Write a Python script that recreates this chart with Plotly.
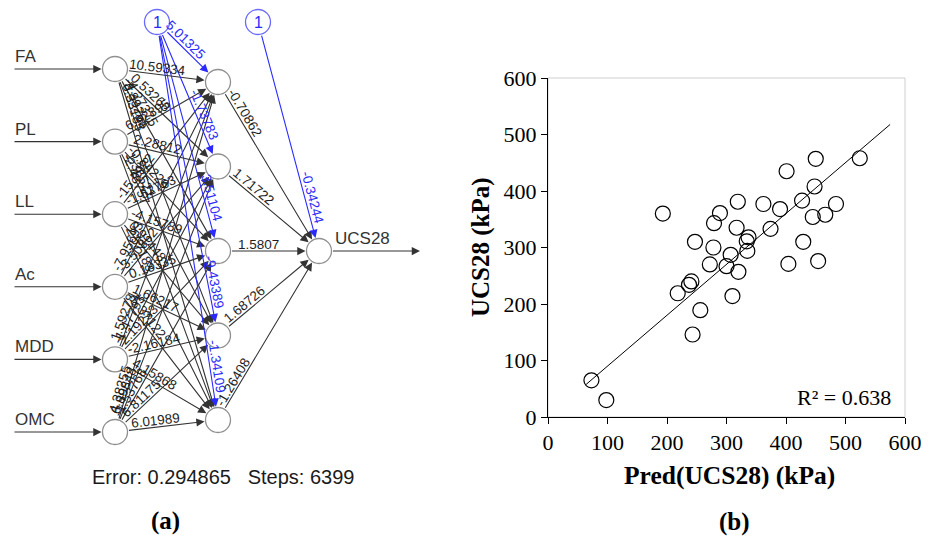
import math
import numpy as np
import plotly.graph_objects as go

# ---------------- data ----------------
input_names = ["FA", "PL", "LL", "Ac", "MDD", "OMC"]
output_name = "UCS28"
# weights input -> hidden (rows: inputs, cols: hidden neurons)
w_fa = [10.59334, 0.53268, -4.27375, 3.89265, 6.33185]
w_pl = [6.62895, 2.28812, -0.84226, 1.36521, -2.48757]
w_ll = [-15.9922, -1.52763, -4.15789, 0.91448, 2.57183]
w_ac = [-7.95693, -3.50862, 0.18335, 1.66217, -5.37122]
w_mdd = [1.59278, -1.47793, 2.19233, -2.16184, 4.15868]
w_omc = [4.38255, 6.89848, -1.53768, 6.81175, 6.01989]
w_bias_hidden = [5.01325, -1.73783, 3.51104, -9.43389, -1.34109]
w_hidden_out = [-0.70862, 1.71722, 1.5807, 1.68726, -1.26408]
w_bias_out = -0.34244
error_value = 0.294865
steps = 6399

pred_ucs28 = [73, 98, 193, 218, 237, 241, 243, 247, 256, 272, 278, 279, 289, 300,
              307, 310, 317, 319, 320, 334, 337, 335, 362, 374, 390, 401, 404, 427,
              429, 445, 448, 450, 454, 466, 484, 524]
ucs28 = [65, 30, 360, 219, 234, 240, 146, 310, 189, 270, 300, 343, 361, 267,
         287, 214, 335, 381, 257, 311, 318, 294, 377, 333, 368, 435, 271, 383,
         310, 354, 408, 457, 276, 358, 377, 458]
r2_value = 0.638
x_ticks = [0, 100, 200, 300, 400, 500, 600]
y_ticks = [0, 100, 200, 300, 400, 500, 600]

# ---------------- layout constants (pixel canvas) ----------------
W, H = 933, 543
IN_X, HID_X, OUT_X = 115, 218, 319
in_y = np.linspace(69, 432, len(input_names))
hid_y = np.linspace(82, 420, len(w_hidden_out))
out_y = float(hid_y.mean())
BIAS1 = (157, 22)
BIAS2 = (258, 22)
R = 12.5
EDGE = "#333333"
BLUE = "#2a2aff"
SANS = "Liberation Sans, Arial, sans-serif"
SERIF = "Liberation Serif, Times New Roman, serif"

w_in_hid = [w_fa, w_pl, w_ll, w_ac, w_mdd, w_omc]

annotations = []


def arrow(x0, y0, x1, y1, color, s0, s1):
    annotations.append(dict(x=x1, y=y1, ax=x0, ay=y0, xref="x", yref="y",
                            axref="x", ayref="y", text="", showarrow=True,
                            arrowhead=2, arrowsize=1.5, arrowwidth=1.1,
                            arrowcolor=color, standoff=s1, startstandoff=s0))


def wlabel(x0, y0, x1, y1, val, dist, from_target, color, off=7):
    dx, dy = x1 - x0, y1 - y0
    L = math.hypot(dx, dy)
    ux, uy = dx / L, dy / L
    if from_target:
        cx, cy = x1 - ux * dist, y1 - uy * dist
    else:
        cx, cy = x0 + ux * dist, y0 + uy * dist
    cx += uy * off
    cy += -ux * off
    ang = math.degrees(math.atan2(dy, dx))
    annotations.append(dict(x=cx, y=cy, xref="x", yref="y", text=str(val),
                            textangle=ang, showarrow=False,
                            font=dict(family=SANS, size=13.5, color=color)))


# input arrows and names
for i, name in enumerate(input_names):
    arrow(13, in_y[i], IN_X, in_y[i], EDGE, 0, R + 1)
    annotations.append(dict(x=13, y=in_y[i] - 1, xref="x", yref="y", text=name,
                            showarrow=False, xanchor="left", yanchor="bottom",
                            font=dict(family=SANS, size=17, color="#333333")))
# input -> hidden
for i in range(len(input_names)):
    for j in range(len(w_hidden_out)):
        arrow(IN_X, in_y[i], HID_X, hid_y[j], EDGE, R, R + 1)
# bias -> hidden
for j in range(len(w_hidden_out)):
    arrow(BIAS1[0], BIAS1[1], HID_X, hid_y[j], BLUE, R, R + 1)
# hidden -> out
for j in range(len(w_hidden_out)):
    arrow(HID_X, hid_y[j], OUT_X, out_y, EDGE, R, R + 1)
arrow(BIAS2[0], BIAS2[1], OUT_X, out_y, BLUE, R, R + 1)
# output arrow
arrow(OUT_X, out_y, 420, out_y, EDGE, R, 0)

# weight labels
for i in range(len(input_names)):
    for j in range(len(w_hidden_out)):
        wlabel(IN_X, in_y[i], HID_X, hid_y[j], w_in_hid[i][j], 42, False, "#1e1e1e")
for j in range(len(w_hidden_out)):
    wlabel(BIAS1[0], BIAS1[1], HID_X, hid_y[j], w_bias_hidden[j], 53, True, BLUE)
for j in range(len(w_hidden_out)):
    wlabel(HID_X, hid_y[j], OUT_X, out_y, w_hidden_out[j], 40, False, "#1e1e1e")
wlabel(BIAS2[0], BIAS2[1], OUT_X, out_y, w_bias_out, 53, True, BLUE)

annotations.append(dict(x=OUT_X + 14, y=out_y - 1, xref="x", yref="y", text=output_name,
                        showarrow=False, xanchor="left", yanchor="bottom",
                        font=dict(family=SANS, size=17, color="#333333")))
for (bx, by) in (BIAS1, BIAS2):
    annotations.append(dict(x=bx, y=by, xref="x", yref="y", text="1", showarrow=False,
                            font=dict(family=SANS, size=16, color=BLUE)))
annotations.append(dict(x=223, y=477, xref="x", yref="y",
                        text=f"Error: {error_value}&nbsp;&nbsp;&nbsp;Steps: {steps}",
                        showarrow=False, font=dict(family=SANS, size=20, color="#1a1a1a")))
annotations.append(dict(x=165, y=521, xref="x", yref="y", text="<b>(a)</b>", showarrow=False,
                        font=dict(family=SERIF, size=25, color="black")))
annotations.append(dict(x=734, y=522, xref="x", yref="y", text="<b>(b)</b>", showarrow=False,
                        font=dict(family=SERIF, size=25, color="black")))
annotations.append(dict(x=729, y=475, xref="x", yref="y", text="<b>Pred(UCS28) (kPa)</b>",
                        showarrow=False, font=dict(family=SERIF, size=25.5, color="black")))
annotations.append(dict(x=481, y=247, xref="x", yref="y", text="<b>UCS28 (kPa)</b>",
                        textangle=-90, showarrow=False,
                        font=dict(family=SERIF, size=25, color="black")))
annotations.append(dict(x=893, y=397, xref="x", yref="y", text=f"R² = {r2_value}",
                        xanchor="right", showarrow=False,
                        font=dict(family=SERIF, size=22, color="black")))

fig = go.Figure()
# nodes
node_x = [IN_X] * len(input_names) + [HID_X] * len(w_hidden_out) + [OUT_X]
node_y = list(in_y) + list(hid_y) + [out_y]
fig.add_trace(go.Scatter(x=node_x, y=node_y, mode="markers", xaxis="x", yaxis="y",
                         marker=dict(size=2 * R, color="white",
                                     line=dict(color="#8f8f8f", width=1.3)),
                         hoverinfo="skip"))
fig.add_trace(go.Scatter(x=[BIAS1[0], BIAS2[0]], y=[BIAS1[1], BIAS2[1]], mode="markers",
                         xaxis="x", yaxis="y",
                         marker=dict(size=2 * R, color="white",
                                     line=dict(color="#6a6aff", width=1.3)),
                         hoverinfo="skip"))

# scatter panel: linear trendline through the origin
px_ = np.array(pred_ucs28, float)
py_ = np.array(ucs28, float)
slope = float((px_ * py_).sum() / (px_ * px_).sum())
trend_x = np.array([64, 575])
fig.add_trace(go.Scatter(x=trend_x, y=slope * trend_x, mode="lines",
                         xaxis="x2", yaxis="y2", line=dict(color="black", width=1)))
fig.add_trace(go.Scatter(x=pred_ucs28, y=ucs28, mode="markers", xaxis="x2", yaxis="y2",
                         marker=dict(symbol="circle-open", size=15, color="black",
                                     line=dict(width=1.2, color="black"))))

fig.update_layout(
    width=W, height=H, margin=dict(l=0, r=0, t=0, b=0, autoexpand=False),
    paper_bgcolor="white", plot_bgcolor="rgba(0,0,0,0)", showlegend=False,
    xaxis=dict(domain=[0, 1], range=[0, W], visible=False, fixedrange=True,
               automargin=False),
    yaxis=dict(domain=[0, 1], range=[H, 0], visible=False, fixedrange=True,
               automargin=False),
    xaxis2=dict(domain=[548 / W, 905 / W], range=[0, 600], anchor="y2",
                tickvals=x_ticks, ticks="outside", ticklen=6, tickcolor="black",
                showline=True, linecolor="black", linewidth=1, showgrid=False,
                zeroline=False, automargin=False,
                tickfont=dict(family=SERIF, size=22, color="black")),
    yaxis2=dict(domain=[(H - 417) / H, (H - 78) / H], range=[0, 600], anchor="x2",
                tickvals=y_ticks, ticks="outside", ticklen=6, tickcolor="black",
                showline=True, linecolor="black", linewidth=1, showgrid=False,
                zeroline=False, automargin=False,
                tickfont=dict(family=SERIF, size=22, color="black")),
    shapes=[dict(type="rect", xref="x2 domain", yref="y2 domain", x0=0, x1=1, y0=0, y1=1,
                 line=dict(color="#cfcfcf", width=1), layer="below")],
    annotations=annotations,
)

fig.write_html("out.html")
